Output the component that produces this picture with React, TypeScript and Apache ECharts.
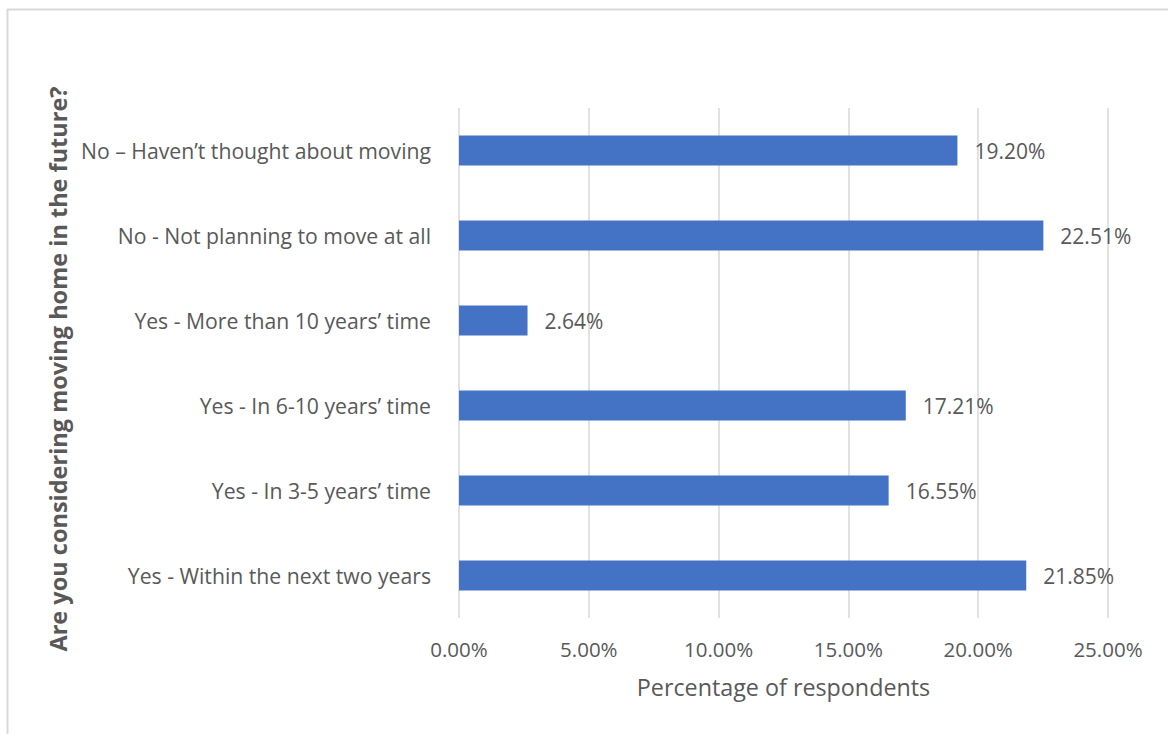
import React, { useEffect, useRef } from "react";
import * as echarts from "echarts";

const categories = [
  "No – Haven’t thought about moving",
  "No - Not planning to move at all",
  "Yes - More than 10 years’ time",
  "Yes - In 6-10 years’ time",
  "Yes - In 3-5 years’ time",
  "Yes - Within the next two years",
];
const values = [19.2, 22.51, 2.64, 17.21, 16.55, 21.85];
const xTicks = [0, 5, 10, 15, 20, 25];

const FONT = "Open Sans";
const TXT = "#595959";

export default function App() {
  const ref = useRef<HTMLDivElement>(null);
  useEffect(() => {
    const chart = echarts.init(ref.current!, null, { renderer: "svg" });
    chart.setOption({
      animation: false,
      backgroundColor: "#ffffff",
      textStyle: { fontFamily: FONT },
      graphic: [
        { type: "line", shape: { x1: 7.5, y1: 9, x2: 7.5, y2: 734 }, style: { stroke: "#d9d9d9", lineWidth: 2 } },
        { type: "line", shape: { x1: 7, y1: 9.5, x2: 1168, y2: 9.5 }, style: { stroke: "#d9d9d9", lineWidth: 2 } },
      ],
      grid: { left: 459, right: 60, top: 108, bottom: 116, containLabel: false },
      xAxis: {
        type: "value",
        min: 0,
        max: 25,
        interval: 5,
        axisLine: { show: false },
        axisTick: { show: false },
        splitLine: { show: true, lineStyle: { color: "#d9d9d9", width: 1.5 } },
        axisLabel: {
          color: TXT,
          fontSize: 20.5,
          fontFamily: FONT,
          margin: 20,
          formatter: (v: number) => (xTicks.includes(v) ? v.toFixed(2) + "%" : ""),
        },
        name: "Percentage of respondents",
        nameLocation: "middle",
        nameGap: 57,
        nameTextStyle: { color: TXT, fontSize: 23.3, fontFamily: FONT },
      },
      yAxis: {
        type: "category",
        data: categories,
        inverse: true,
        axisLine: { show: false },
        axisTick: { show: false },
        axisLabel: { color: TXT, fontSize: 21.2, fontFamily: FONT, margin: 28 },
        name: "Are you considering moving home in the future?",
        nameLocation: "middle",
        nameGap: 388,
        nameRotate: 90,
        nameTextStyle: { color: TXT, fontSize: 23.5, fontWeight: "bold", fontFamily: FONT, padding: [0, 12, 0, 0] },
      },
      series: [
        {
          type: "bar",
          data: values,
          barWidth: 30,
          itemStyle: { color: "#4472C4" },
          label: {
            show: true,
            position: "right",
            distance: 17,
            color: TXT,
            fontSize: 21,
            fontFamily: FONT,
            formatter: (p: any) => p.value.toFixed(2) + "%",
          },
        },
      ],
    });
    return () => chart.dispose();
  }, []);
  return <div ref={ref} style={{ position: "fixed", left: 0, top: 0, width: 1168, height: 734 }} />;
}
